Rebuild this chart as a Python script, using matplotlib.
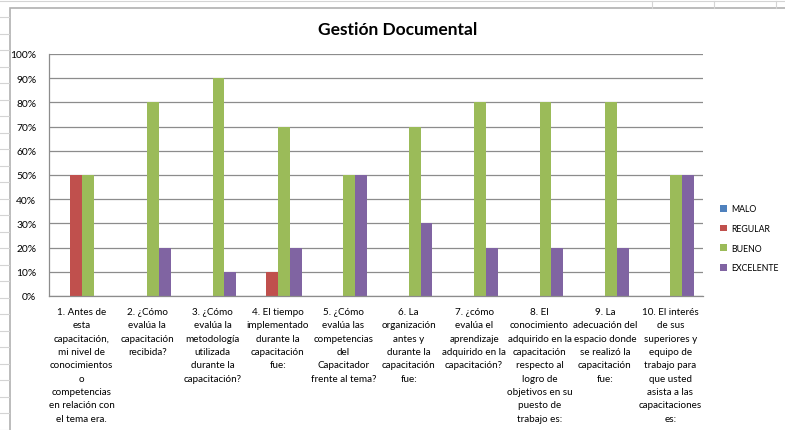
import numpy as np
import matplotlib.pyplot as plt
from matplotlib.patches import Rectangle
from matplotlib.lines import Line2D

plt.rcParams['font.family'] = ['Lato', 'DejaVu Sans']

preguntas = [
    "1. Antes de\nesta\ncapacitación,\nmi nivel de\nconocimientos\no\ncompetencias\nen relación con\nel tema era.",
    "2. ¿Cómo\nevalúa la\ncapacitación\nrecibida?",
    "3. ¿Cómo\nevalúa la\nmetodología\nutilizada\ndurante la\ncapacitación?",
    "4. El tiempo\nimplementado\ndurante la\ncapacitación\nfue:",
    "5. ¿Cómo\nevalúa las\ncompetencias\ndel\nCapacitador\nfrente al tema?",
    "6. La\norganización\nantes y\ndurante la\ncapacitación\nfue:",
    "7. ¿cómo\nevalúa el\naprendizaje\nadquirido en la\ncapacitación?",
    "8. El\nconocimiento\nadquirido en la\ncapacitación\nrespecto al\nlogro de\nobjetivos en su\npuesto de\ntrabajo es:",
    "9. La\nadecuación del\nespacio donde\nse realizó la\ncapacitación\nfue:",
    "10. El interés\nde sus\nsuperiores y\nequipo de\ntrabajo para\nque usted\nasista a las\ncapacitaciones\nes:",
]

malo = [0, 0, 0, 0, 0, 0, 0, 0, 0, 0]
regular = [0.5, 0, 0, 0.1, 0, 0, 0, 0, 0, 0]
bueno = [0.5, 0.8, 0.9, 0.7, 0.5, 0.7, 0.8, 0.8, 0.8, 0.5]
excelente = [0, 0.2, 0.1, 0.2, 0.5, 0.3, 0.2, 0.2, 0.2, 0.5]

series = ["MALO", "REGULAR", "BUENO", "EXCELENTE"]
colores = ["#4F81BD", "#C0504D", "#9BBB59", "#8064A2"]

W, H = 785, 431
fig = plt.figure(figsize=(W / 100, H / 100), dpi=100)

# hoja de calculo de fondo
gris = "#d4d4d4"
fig.add_artist(Line2D([0, 1], [1 - 2 / H, 1 - 2 / H], color=gris, lw=0.8))
for xv in [652, 714, 776]:
    fig.add_artist(Line2D([xv / W, xv / W], [1 - 2 / H, 1 - 9 / H], color=gris, lw=0.8))
for yv in np.arange(18, H, 16.5):
    fig.add_artist(Line2D([0, 9 / W], [1 - yv / H, 1 - yv / H], color=gris, lw=0.8))
fig.add_artist(Rectangle((10 / W, -0.01), 1.0, 1 - 9 / H + 0.01, fill=False,
                         edgecolor="#b0b0b0", lw=1.2))

ax = fig.add_axes([49 / W, (H - 297) / H, (703 - 49) / W, (297 - 55) / H])

x = np.arange(len(preguntas))
ancho = 1 / 5.5
datos = [malo, regular, bueno, excelente]
for i, (vals, nombre, c) in enumerate(zip(datos, series, colores)):
    ax.bar(x + (i - 1.5) * ancho, vals, width=ancho, color=c, label=nombre)

ax.set_xlim(-0.5, len(preguntas) - 0.5)
ax.set_ylim(0, 1)
ax.set_yticks(np.arange(0, 1.01, 0.1))
ax.set_yticklabels([f"{int(round(v * 100))}%" for v in np.arange(0, 1.01, 0.1)], fontsize=7.4)
ax.set_xticks(x)
ax.set_xticklabels(preguntas, fontsize=7.1, linespacing=1.62, va="top")
ax.tick_params(length=0, pad=8)
ax.tick_params(axis="y", pad=9)
ax.yaxis.grid(True, color="#8c8c8c", lw=0.9)
ax.set_axisbelow(True)
for s in ["top", "right"]:
    ax.spines[s].set_visible(False)
for s in ["left", "bottom"]:
    ax.spines[s].set_color("#8c8c8c")
    ax.spines[s].set_linewidth(0.9)

fig.text(398 / W, 1 - 30 / H, "Gestión Documental", ha="center", va="center",
         fontsize=12.5, fontweight="bold")

fig.legend(loc="upper left", bbox_to_anchor=(716 / W, 1 - 201 / H), frameon=False,
           fontsize=6.3, handlelength=0.75, handleheight=0.75, handletextpad=0.45,
           labelspacing=1.22, borderpad=0)

fig.savefig("out.png", dpi=100)
